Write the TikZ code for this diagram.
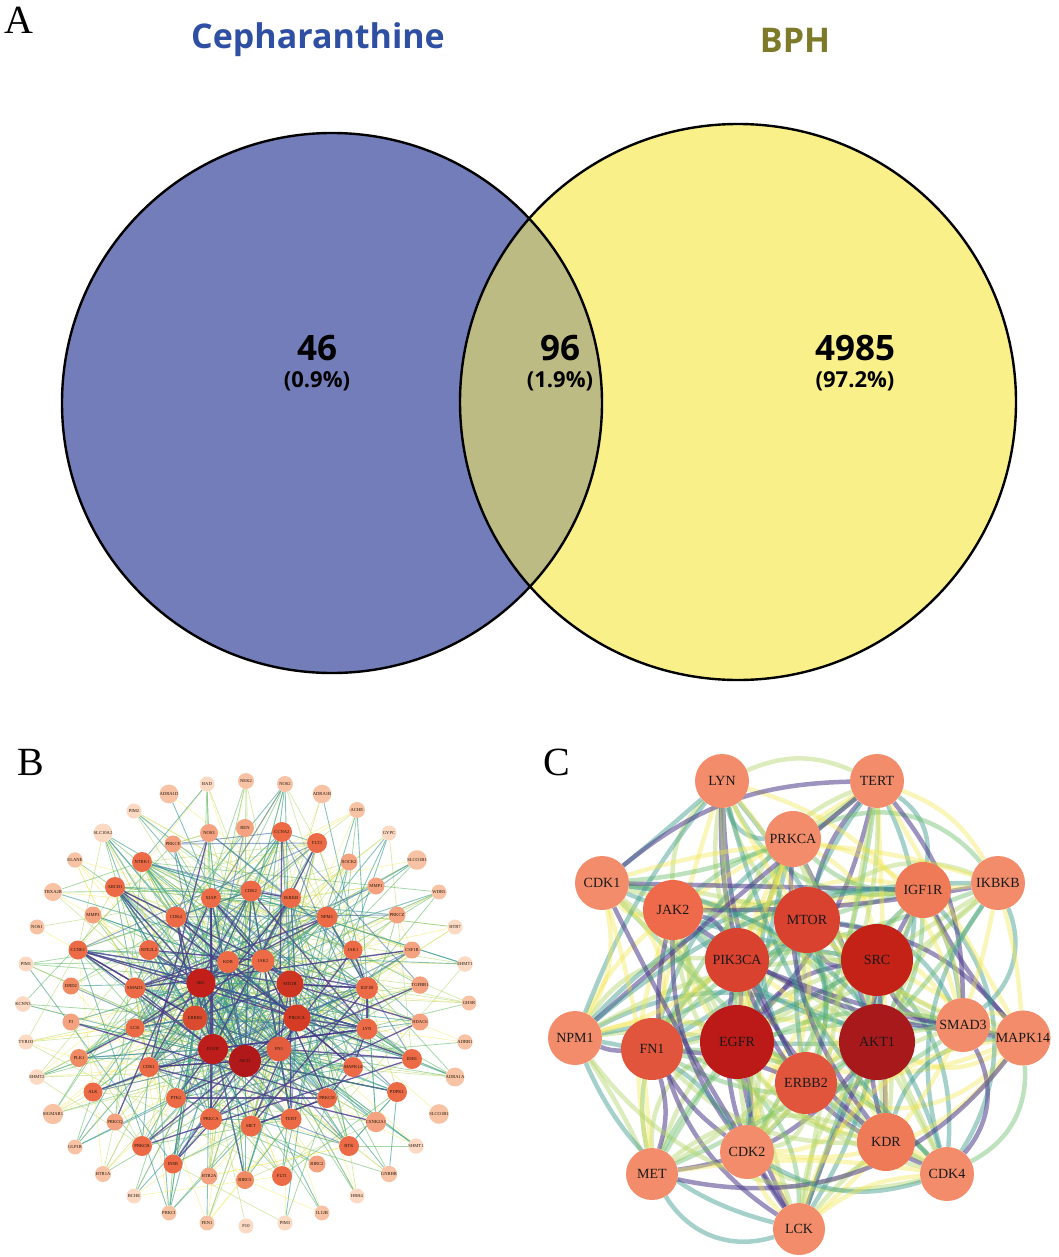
\documentclass[tikz,border=0pt]{standalone}
\usepackage{fontspec}
\setmainfont{Liberation Serif}
\newfontfamily\vf{Open Sans}
\pgfdeclarelayer{edges}
\pgfsetlayers{edges,main}
\definecolor{vennL}{HTML}{737DBA}
\definecolor{vennR}{HTML}{F9F08A}
\definecolor{vennI}{HTML}{BDBB84}
\definecolor{cephblue}{HTML}{2F4FA2}
\definecolor{bpholive}{HTML}{7D7A2A}
% panel B node colours
\definecolor{bA}{HTML}{B0181A}
\definecolor{bB}{HTML}{BE1E1B}
\definecolor{bC}{HTML}{C21F1A}
\definecolor{bD}{HTML}{CE3422}
\definecolor{bE}{HTML}{D43C25}
\definecolor{bF}{HTML}{DA4A2E}
\definecolor{bG}{HTML}{E35C3E}
\definecolor{bH}{HTML}{EC6A45}
\definecolor{bI}{HTML}{F08A62}
\definecolor{bJ}{HTML}{F4A27F}
\definecolor{bK}{HTML}{F8C3A5}
\definecolor{bL}{HTML}{FBD9C3}
% panel C node colours
\definecolor{cA}{HTML}{A8191B}
\definecolor{cB}{HTML}{BC1A18}
\definecolor{cC}{HTML}{C42117}
\definecolor{cD}{HTML}{DA4230}
\definecolor{cE}{HTML}{E2553D}
\definecolor{cF}{HTML}{EE6A4A}
\definecolor{cG}{HTML}{EF7A57}
\definecolor{cH}{HTML}{F28C6A}
% edge colours
\definecolor{e1}{HTML}{F3E64E}
\definecolor{e2}{HTML}{B4D56A}
\definecolor{e3}{HTML}{6DBE6C}
\definecolor{e4}{HTML}{3A9A8C}
\definecolor{e5}{HTML}{3E6A9E}
\definecolor{e6}{HTML}{4A3A8A}
\tikzset{
  panellab/.style={font=\fontsize{40}{40}\selectfont, inner sep=0pt},
  vtitle/.style={font=\vf\bfseries\fontsize{34}{34}\selectfont, inner sep=0pt},
  vnum/.style={font=\vf\bfseries\fontsize{35}{35}\selectfont, inner sep=0pt},
  vpct/.style={font=\vf\bfseries\fontsize{22}{22}\selectfont, inner sep=0pt},
  bn/.style={circle, inner sep=0pt, text=black!80!brown, font=\fontsize{4.6}{4.6}\selectfont},
  cn/.style={circle, inner sep=0pt, text=black!90, font=\fontsize{14}{14}\selectfont},
  be1/.style={draw=e1, opacity=.5, line width=.6pt},
  be2/.style={draw=e2, opacity=.55, line width=.7pt},
  be3/.style={draw=e3, opacity=.6, line width=.8pt},
  be4/.style={draw=e4, opacity=.6, line width=.9pt},
  be5/.style={draw=e5, opacity=.55, line width=1pt},
  be6/.style={draw=e6, opacity=.8, line width=1.3pt},
  ce1/.style={draw=e1, opacity=.4, line width=4.5pt},
  ce2/.style={draw=e1, opacity=.4, line width=4.5pt},
  ce3/.style={draw=e2, opacity=.45, line width=4.5pt},
  ce4/.style={draw=e3, opacity=.45, line width=4.5pt},
  ce5/.style={draw=e4, opacity=.45, line width=4.5pt},
  ce6/.style={draw=e6, opacity=.55, line width=4.5pt},
}
\begin{document}
\begin{tikzpicture}[x=1pt,y=-1pt]
\useasboundingbox (0,0) rectangle (1059,1257);

% ---------------- Panel A ----------------
\node[panellab] (labA) at (19,20) {A};
\fill[vennL] (332,403) circle[radius=270pt];
\fill[vennR] (738,402) circle[radius=278pt];
\begin{scope}
  \clip (332,403) circle[radius=270pt];
  \fill[vennI] (738,402) circle[radius=278pt];
\end{scope}
\draw[line width=2.4pt] (332,403) circle[radius=270pt];
\draw[line width=2.4pt] (738,402) circle[radius=278pt];
\node[vtitle, text=cephblue] (tceph) at (318,40) {Cepharanthine};
\node[vtitle, text=bpholive] (tbph) at (795,40) {BPH};
\node[vnum] (n46) at (317,348) {46};
\node[vpct] (p46) at (317,381) {(0.9\%)};
\node[vnum] (n96) at (560,348) {96};
\node[vpct] (p96) at (560,381) {(1.9\%)};
\node[vnum] (n4985) at (855,348) {4985};
\node[vpct] (p4985) at (855,381) {(97.2\%)};

% ---------------- Panel B ----------------
\node[panellab] (labB) at (31,762) {B};
\foreach \px/\py/\dd/\cc/\lab [count=\i] in {
245/1061/32/bA/AKT1, 213/1049/30/bB/EGFR, 201/983/29/bC/SRC, 290/984/27/bD/MTOR,
297/1018/27/bE/PIK3CA, 195/1018/25/bF/ERBB2, 279/1049/25/bG/FN1,
263/961/23/bH/JAK2, 228/962/22/bH/KDR, 367/988/22/bH/IGF1R, 367/1029/21/bH/LYN,
135/988/21/bH/SMAD3, 149/1067/20/bH/CDK1, 327/917/21/bH/NPM1, 251/891/21/bH/CDK2,
176/917/21/bH/CDK4, 291/898/20/bH/IKBKB, 211/898/20/bH/XIAP, 282/832/20/bH/CCNA2,
317/843/20/bH/FLT3, 142/862/20/bH/NTRK1, 115/887/20/bH/ABCB1, 78/950/19/bH/CCNE1,
149/950/20/bH/NFE2L2, 135/1028/19/bH/LCK, 176/1098/20/bH/PTK2, 211/1119/22/bH/PRKCA,
251/1126/21/bH/MET, 291/1119/21/bH/TERT, 327/1098/20/bH/PRKCD, 353/1067/20/bH/MAPK14,
412/1059/20/bH/IDH1, 397/1092/20/bH/PDPK1, 353/950/19/bH/JAK1, 282/1176/20/bH/FLT1,
349/1146/20/bH/BTK, 142/1146/20/bH/PRKCB, 173/1164/19/bH/INSR, 93/1092/19/bH/ALK,
79/1058/18/bI/PLK1, 245/1180/18/bI/BIRC5,
209/833/18/bJ/NOS3, 245/828/18/bJ/REN, 173/844/17/bJ/PRKCE, 349/862/17/bJ/ROCK2,
376/886/17/bJ/MMP1, 397/915/17/bJ/PRKCZ, 412/950/17/bJ/CSF1R, 420/985/17/bJ/TGFBR1,
420/1022/17/bJ/HDAC6, 376/1122/17/bJ/CSNK2A1, 317/1164/17/bJ/BIRC2, 209/1176/17/bJ/HTR2A,
115/1122/17/bJ/PRKCQ, 93/915/17/bJ/MMP3, 71/986/17/bI/DRD2, 71/1022/17/bJ/F3,
246/781/16/bK/NEK2, 285/784/16/bK/NOS2, 322/794/16/bK/ADRA1B, 357/810/16/bK/ACHE,
389/833/15/bL/GYPC, 417/860/16/bK/SLCO1B1, 439/892/15/bK/WDR5, 455/927/15/bL/HTR7,
465/964/15/bL/EHMT1, 469/1003/15/bK/GHSR, 465/1042/15/bK/ADRB1, 455/1077/15/bK/ADRA1A,
439/1114/15/bK/SLCO1B1, 416/1146/15/bL/SHMT1, 389/1174/15/bK/GNRHR, 357/1196/15/bL/HRH4,
322/1213/15/bK/IL12B, 285/1223/15/bL/PIM3, 246/1226/15/bL/F10, 207/1223/15/bK/FEN1,
169/1213/15/bK/PRKCI, 134/1196/15/bL/BCHE, 103/1174/16/bK/HTR1A, 75/1147/15/bK/GLP1R,
53/1114/15/bK/SIGMAR1, 37/1077/15/bL/EHMT2, 26/1042/15/bL/TYRO3, 23/1004/15/bL/KCNN3,
26/964/15/bL/PIM1, 37/927/15/bK/NOS1, 53/892/15/bK/TBXA2R, 75/860/15/bK/ELANE,
103/833/15/bL/SLC10A2, 134/811/15/bL/PIM2, 169/794/15/bK/ADRA1D, 207/784/15/bL/BAD}
  {\node[bn, fill=\cc, minimum size=\dd pt] (b\i) at (\px,\py) {\lab};}

\pgfmathsetseed{12}
\begin{pgfonlayer}{edges}
% light, mostly yellow/green edges spread over the whole network
\foreach \k in {1,...,520}{
  \pgfmathtruncatemacro{\ea}{1+floor(rnd*rnd*56.99)}
  \pgfmathtruncatemacro{\eb}{1+floor(rnd*92.99)}
  \pgfmathtruncatemacro{\ec}{1+floor(rnd*3.99)}
  \ifnum\ea=\eb\relax\else
    \draw[be\ec] (b\ea) -- (b\eb);
  \fi
}
% darker teal/blue/purple edges, mostly among the hubs
\foreach \k in {1,...,260}{
  \pgfmathtruncatemacro{\ea}{1+floor(rnd*rnd*40.99)}
  \pgfmathtruncatemacro{\eb}{1+floor(rnd*rnd*70.99)}
  \pgfmathtruncatemacro{\ec}{4+floor(rnd*2.99)}
  \ifnum\ea=\eb\relax\else
    \draw[be\ec] (b\ea) -- (b\eb);
  \fi
}
\end{pgfonlayer}

% ---------------- Panel C ----------------
\node[panellab] (labC) at (557,762) {C};
\foreach \px/\py/\dd/\cc/\lab [count=\i] in {
877/1042/76/cA/AKT1, 737/1042/74/cB/EGFR, 877/960/72/cC/SRC, 807/920/66/cD/MTOR,
737/960/64/cD/PIK3CA, 806/1083/62/cE/ERBB2, 652/1049/62/cE/FN1, 673/910/60/cF/JAK2,
923/890/56/cG/IGF1R, 886/1142/58/cG/KDR, 793/839/56/cH/PRKCA, 722/781/54/cH/LYN,
877/781/54/cH/TERT, 602/883/54/cH/CDK1, 998/883/54/cH/IKBKB, 575/1038/54/cH/NPM1,
963/1025/54/cH/SMAD3, 1023/1038/54/cH/MAPK14, 747/1152/54/cH/CDK2, 652/1174/52/cH/MET,
947/1174/54/cH/CDK4, 799/1229/52/cH/LCK}
  {\node[cn, fill=\cc, minimum size=\dd pt] (c\i) at (\px,\py) {\lab};}

\pgfmathsetseed{5}
\begin{pgfonlayer}{edges}
\foreach \i in {1,...,22}{
  \foreach \j in {\i,...,22}{
    \pgfmathsetmacro{\pp}{rnd}
    \pgfmathtruncatemacro{\bb}{-40+rnd*80}
    \pgfmathtruncatemacro{\ec}{1+floor(rnd*5.99)}
    \ifnum\i<\j\relax
      \ifdim\pp pt<0.85pt
        \draw[ce\ec] (c\i) to[bend left=\bb] (c\j);
      \fi
    \fi
  }
}
\end{pgfonlayer}
\end{tikzpicture}
\end{document}
